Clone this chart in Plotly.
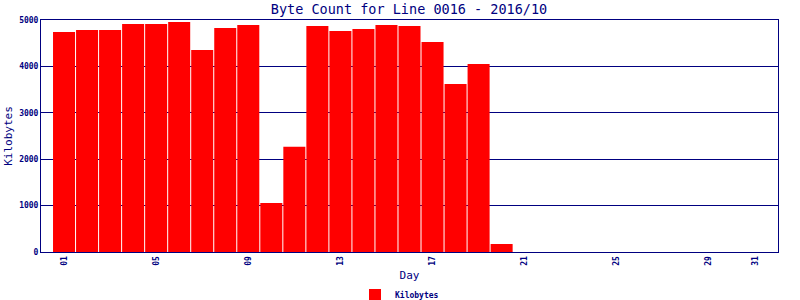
import plotly.graph_objects as go

days = list(range(1, 32))
kilobytes = [4741, 4784, 4784, 4914, 4914, 4957, 4353, 4828, 4892, 1056,
             2270, 4871, 4763, 4806, 4892, 4871, 4526, 3621, 4052, 172,
             0, 0, 0, 0, 0, 0, 0, 0, 0, 0, 0]
tick_vals = [1, 5, 9, 13, 17, 21, 25, 29, 31]
tick_text = ["01", "05", "09", "13", "17", "21", "25", "29", "31"]
y_ticks = [0, 1000, 2000, 3000, 4000, 5000]

NAVY = "#000080"
FONT = "DejaVu Sans Mono"

fig = go.Figure()
fig.add_trace(go.Bar(
    x=days, y=kilobytes, name="Kilobytes",
    marker=dict(color="#ff0000", line=dict(width=0)),
    showlegend=True,
))
fig.update_layout(
    width=800, height=300,
    margin=dict(l=41, r=22, t=20, b=48, autoexpand=False),
    paper_bgcolor="white", plot_bgcolor="white",
    bargap=1/23,
    title=dict(text="Byte Count for Line 0016 - 2016/10",
               font=dict(family=FONT, size=13.5, color=NAVY),
               x=409/800, xanchor="center", y=1-9/300, yanchor="middle"),
    xaxis=dict(range=[0, 32], tickvals=tick_vals, ticktext=tick_text,
               tickangle=-90, tickfont=dict(family=FONT, size=8, color=NAVY, weight="bold"),
               showgrid=False, showline=True, linecolor=NAVY, linewidth=1,
               mirror=True, ticks="", zeroline=False, automargin=False,
               title=dict(text="Day", font=dict(family=FONT, size=11, color=NAVY),
                          standoff=6)),
    yaxis=dict(range=[0, 5000], tickvals=y_ticks,
               tickfont=dict(family=FONT, size=8, color=NAVY, weight="bold"),
               showgrid=True, gridcolor=NAVY, gridwidth=1,
               showline=True, linecolor=NAVY, linewidth=1, mirror=True,
               ticks="", zeroline=False, automargin=False,
               title=dict(text="Kilobytes", font=dict(family=FONT, size=11, color=NAVY),
                          standoff=4)),
    legend=dict(orientation="h", x=0.5 - 10/737, xanchor="center", y=-43/232, yanchor="middle",
                itemwidth=30,
                font=dict(family=FONT, size=8, color=NAVY, weight="bold")),
)
fig.write_html("out.html")
